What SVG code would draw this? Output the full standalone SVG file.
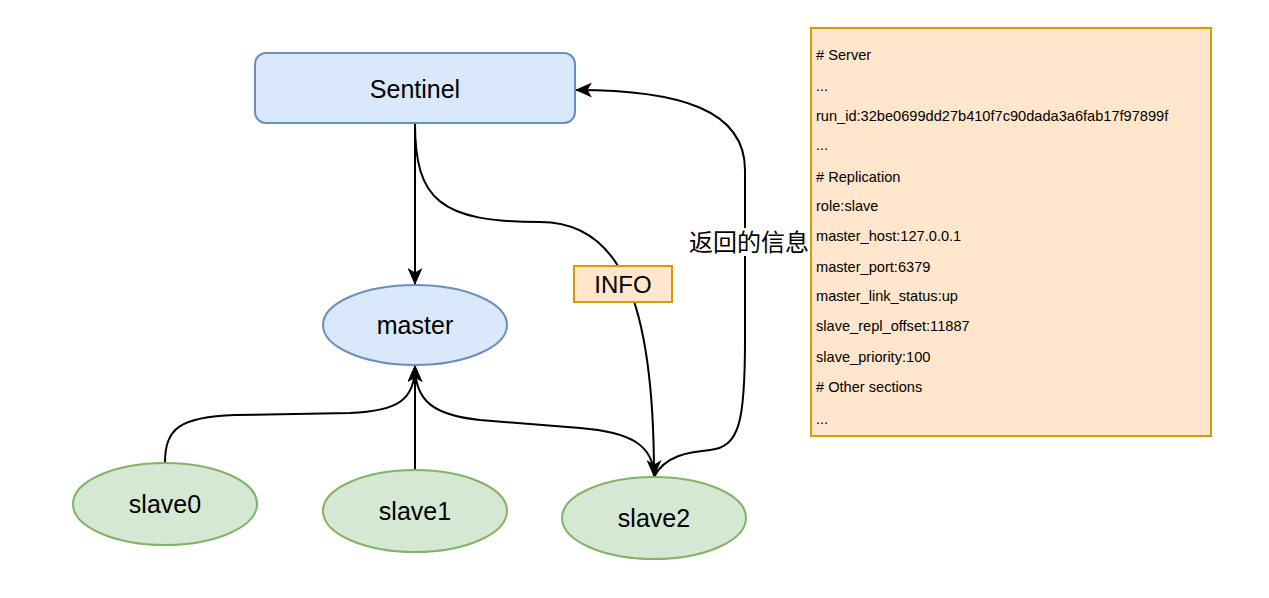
<svg xmlns="http://www.w3.org/2000/svg" width="1269" height="598" viewBox="0 0 1269 598">
<style>
.lbl{font-family:"Liberation Sans",Arial,sans-serif;font-size:25px;fill:#000;text-anchor:middle;dominant-baseline:central}
.blue{fill:#dae8fc;stroke:#6c8ebf;stroke-width:2}
.green{fill:#d5e8d4;stroke:#82b366;stroke-width:2}
.orange{fill:#ffe6cc;stroke:#d79b00;stroke-width:2}
.edge{fill:none;stroke:#000;stroke-width:2}
.info{font-family:"Liberation Sans",Arial,sans-serif;font-size:14.6px;fill:#000}
</style>
<defs>
<marker id="arr" markerUnits="userSpaceOnUse" markerWidth="17" markerHeight="15" refX="16" refY="7.5" orient="auto" viewBox="0 0 17 15">
<path d="M0,0 L17,7.5 L0,15 L4.5,7.5 Z" fill="#000"/>
</marker>
</defs>
<rect width="1269" height="598" fill="#fff"/>
<g id="connectors">
<path class="edge" d="M415,123 L415,284" marker-end="url(#arr)"/>
<path class="edge" d="M165,463 C165,428 180,417 235,415 L350,413 C398,411 415,400 415,366" marker-end="url(#arr)"/>
<path class="edge" d="M415,470 L415,366" marker-end="url(#arr)"/>
<path class="edge" d="M654,477 C654,445 630,432 580,428 L480,420 C432,415 415,400 415,366"/>
<path class="edge" d="M415,123 C415,200 440,222 540,222 C620,222 654,300 654,476" marker-end="url(#arr)"/>
<path class="edge" d="M654,477 C665,455 690,452 710,450 C740,447 745,420 745,340 L745,170 C745,110 680,90 576,90" marker-end="url(#arr)"/>
</g>
<g id="label-info">
<rect class="orange" x="574" y="266" width="98" height="36"/>
<text class="lbl" x="623" y="284" style="font-size:24px">INFO</text>
</g>
<g id="label-return">
<rect x="688" y="228" width="122" height="28" fill="#fff"/>
<text class="lbl" x="749" y="242" style="font-size:24px;font-family:'Liberation Sans','Noto Sans CJK SC',sans-serif">返回的信息</text>
</g>
<g id="sentinel">
<rect class="blue" x="255" y="53" width="320" height="70" rx="11"/>
<text class="lbl" x="415" y="89">Sentinel</text>
</g>
<g id="master">
<ellipse class="blue" cx="415" cy="325" rx="92" ry="40"/>
<text class="lbl" x="415" y="325">master</text>
</g>
<g id="slave0">
<ellipse class="green" cx="165" cy="504" rx="92" ry="41"/>
<text class="lbl" x="165" y="504">slave0</text>
</g>
<g id="slave1">
<ellipse class="green" cx="415" cy="511" rx="92" ry="41"/>
<text class="lbl" x="415" y="511">slave1</text>
</g>
<g id="slave2">
<ellipse class="green" cx="654" cy="518" rx="92" ry="41"/>
<text class="lbl" x="654" y="518">slave2</text>
</g>
<g id="info-box">
<rect class="orange" x="811" y="28" width="400" height="408"/>
<text class="info" x="816" y="60">#&#160;Server</text>
<text class="info" x="816" y="91">...</text>
<text class="info" x="816" y="121">run_id:32be0699dd27b410f7c90dada3a6fab17f97899f</text>
<text class="info" x="816" y="150">...</text>
<text class="info" x="816" y="182"># Replication</text>
<text class="info" x="816" y="211">role:slave</text>
<text class="info" x="816" y="241">master_host:127.0.0.1</text>
<text class="info" x="816" y="272">master_port:6379</text>
<text class="info" x="816" y="301">master_link_status:up</text>
<text class="info" x="816" y="331">slave_repl_offset:11887</text>
<text class="info" x="816" y="362">slave_priority:100</text>
<text class="info" x="816" y="392"># Other sections</text>
<text class="info" x="816" y="424">...</text>
</g>
</svg>
